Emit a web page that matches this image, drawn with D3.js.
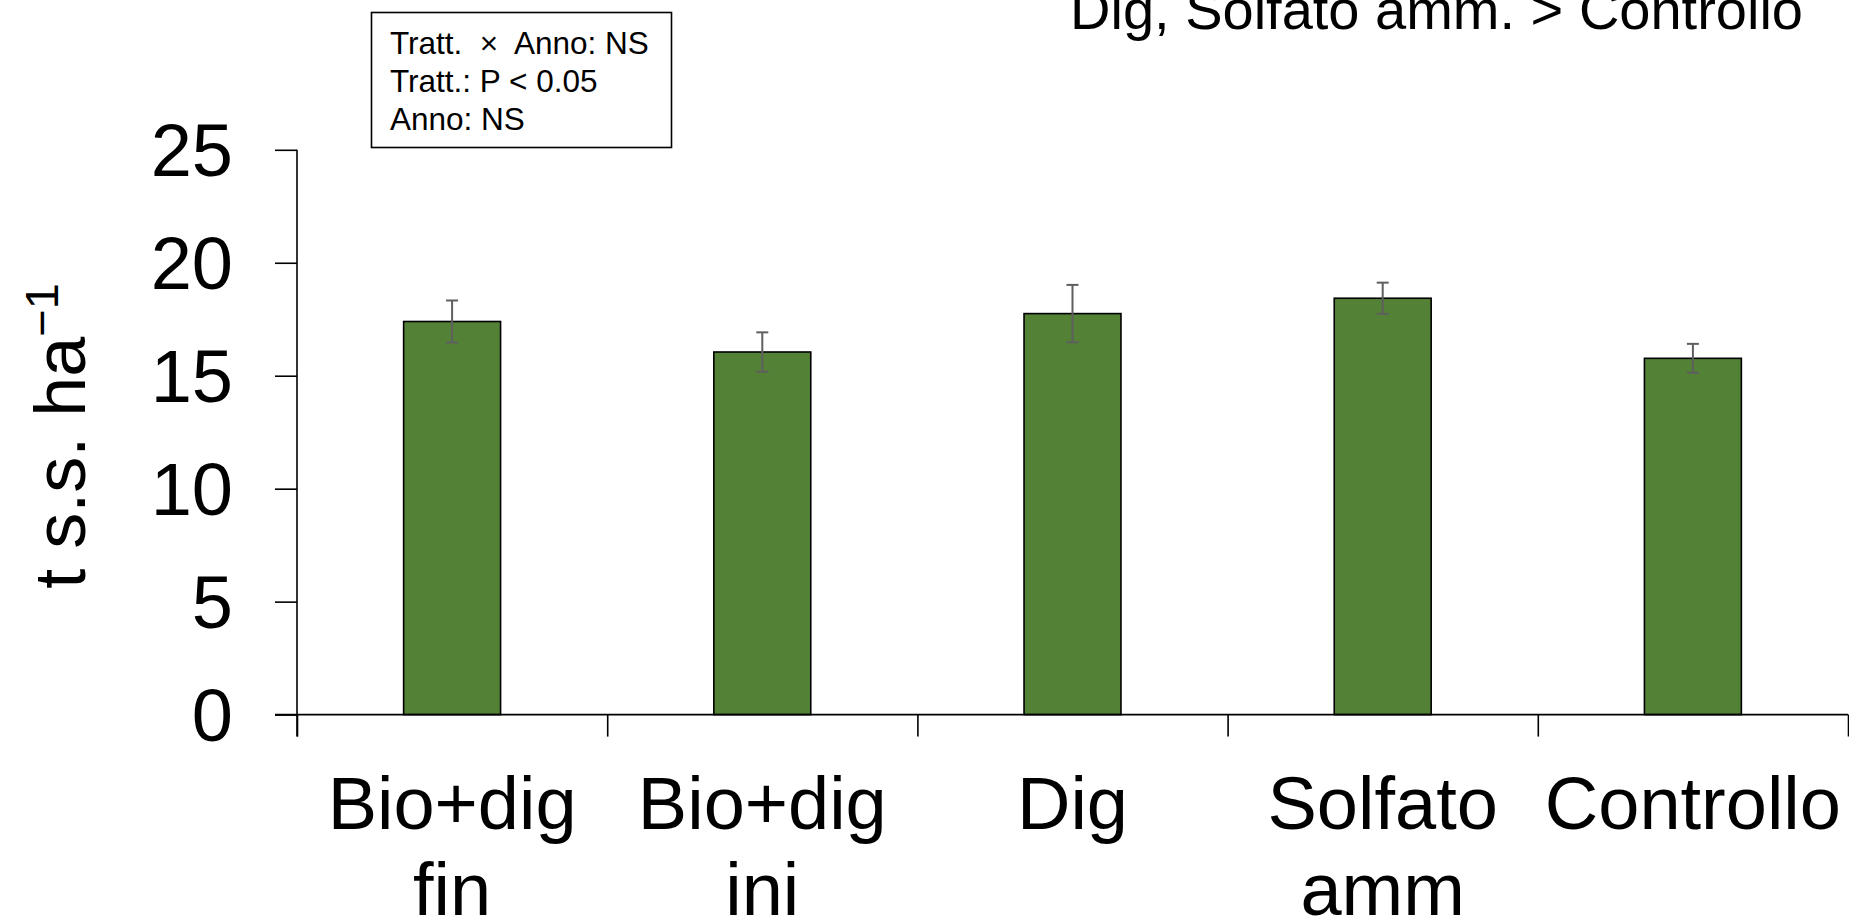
<!DOCTYPE html>
<html>
<head>
<meta charset="utf-8">
<script src="https://cdn.jsdelivr.net/npm/d3@7"></script>
<style>
  html, body { margin: 0; padding: 0; background: #fff; }
  svg { display: block; font-family: "Liberation Sans", Arial, sans-serif; }
</style>
</head>
<body>
<svg id="chart" width="1849" height="917"></svg>
<script>
// ---- data ----
const categories = ["Bio+dig fin", "Bio+dig ini", "Dig", "Solfato amm", "Controllo"];
const labelLines = [["Bio+dig", "fin"], ["Bio+dig", "ini"], ["Dig"], ["Solfato", "amm"], ["Controllo"]];
const means = [17.4, 16.05, 17.75, 18.43, 15.77];
const stdErr = [0.93, 0.87, 1.27, 0.69, 0.64];
const yTicks = [0, 5, 10, 15, 20, 25];
const statLines = ["Tratt.  \u00d7  Anno: NS", "Tratt.: P < 0.05", "Anno: NS"];
const titleText = "Dig, Solfato amm. > Controllo";

// ---- layout ----
const svg = d3.select("#chart");
const x0 = 297, x1 = 1848, yBottom = 714.6, yTop = 149.8;

const y = d3.scaleLinear().domain([0, 25]).range([yBottom, yTop]);
const x = d3.scaleBand().domain(categories).range([x0, x1]).paddingInner(0).paddingOuter(0);
const xEdge = d3.scaleLinear().domain([0, categories.length]).range([x0, x1]);

const barW = x.bandwidth() * 0.3125;

// bars
svg.append("g").selectAll("rect").data(categories).join("rect")
  .attr("x", d => x(d) + x.bandwidth() / 2 - barW / 2)
  .attr("y", (d, i) => y(means[i]))
  .attr("width", barW)
  .attr("height", (d, i) => y(0) - y(means[i]))
  .attr("fill", "#538135")
  .attr("stroke", "#000")
  .attr("stroke-width", 1.6);

// error bars
const eb = svg.append("g").attr("stroke", "#5f5f5f").attr("stroke-width", 2);
categories.forEach((c, i) => {
  const cx = x(c) + x.bandwidth() / 2;
  const lo = y(means[i] - stdErr[i]), hi = y(means[i] + stdErr[i]);
  eb.append("line").attr("x1", cx).attr("x2", cx).attr("y1", lo).attr("y2", hi);
  eb.append("line").attr("x1", cx - 6).attr("x2", cx + 6).attr("y1", lo).attr("y2", lo);
  eb.append("line").attr("x1", cx - 6).attr("x2", cx + 6).attr("y1", hi).attr("y2", hi);
});

// y axis
const yAxis = svg.append("g").attr("transform", `translate(${x0},0)`)
  .call(d3.axisLeft(y).tickValues(yTicks).tickSize(22).tickSizeOuter(0).tickFormat(d3.format("d")));
yAxis.select(".domain").remove();
yAxis.selectAll(".tick line").attr("stroke", "#000").attr("stroke-width", 1.6);
yAxis.selectAll(".tick text")
  .attr("x", -64).attr("dy", null).attr("y", 26)
  .attr("font-size", 74).attr("fill", "#000")
  .attr("font-family", "Liberation Sans, Arial, sans-serif");
yAxis.append("line").attr("x1", 0).attr("x2", 0).attr("y1", y(25)).attr("y2", yBottom + 22)
  .attr("stroke", "#000").attr("stroke-width", 1.6);

// x axis
const xAxis = svg.append("g").attr("transform", `translate(0,${yBottom})`)
  .call(d3.axisBottom(xEdge).ticks(categories.length).tickSize(22).tickSizeOuter(0).tickFormat(""));
xAxis.select(".domain").remove();
xAxis.selectAll(".tick line").attr("stroke", "#000").attr("stroke-width", 1.6);
xAxis.append("line").attr("x1", x0 - 22).attr("x2", x1).attr("y1", 0).attr("y2", 0)
  .attr("stroke", "#000").attr("stroke-width", 1.6);

// x labels
const xl = svg.append("g").attr("font-size", 74).attr("text-anchor", "middle").attr("fill", "#000");
categories.forEach((c, i) => {
  const cx = x(c) + x.bandwidth() / 2;
  labelLines[i].forEach((t, j) => {
    xl.append("text").attr("x", cx).attr("y", 829 + j * 86).text(t);
  });
});

// y title
const yt = svg.append("text")
  .attr("transform", "translate(85,436) rotate(-90)")
  .attr("text-anchor", "middle").attr("font-size", 72).attr("fill", "#000");
yt.append("tspan").text("t s.s. ha");
yt.append("tspan").attr("dy", -27).attr("font-size", 47).text("\u22121");

// title (clipped at top)
svg.append("text").attr("x", 1803).attr("y", 29).attr("text-anchor", "end")
  .attr("font-size", 56).attr("fill", "#000").text(titleText);

// stats box
svg.append("rect").attr("x", 371.5).attr("y", 12.5).attr("width", 300).attr("height", 135)
  .attr("fill", "#fff").attr("stroke", "#000").attr("stroke-width", 1.6);
const st = svg.append("g").attr("font-size", 31.5).attr("fill", "#000");
statLines.forEach((t, i) => {
  st.append("text").attr("x", 390).attr("y", 54 + i * 38).attr("xml:space", "preserve").style("white-space", "pre").text(t);
});
</script>
</body>
</html>
